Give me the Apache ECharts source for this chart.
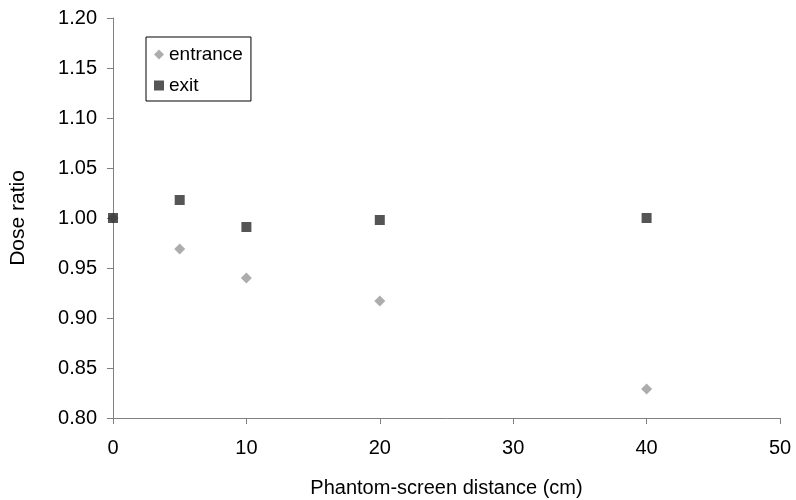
<!DOCTYPE html>
<html><head><meta charset="utf-8">
<script src="https://cdn.jsdelivr.net/npm/echarts@6/dist/echarts.min.js"></script>
<style>html,body{margin:0;padding:0;background:#fff}#c{width:796px;height:500px}</style>
</head><body><div id="c"></div>
<script>
const xValues = [0, 5, 10, 20, 40];
const entrance = [1.000, 0.969, 0.940, 0.917, 0.829];
const exitVals = [1.000, 1.018, 0.991, 0.998, 1.000];
const xTicks = [0, 10, 20, 30, 40, 50];
const yTicks = [0.80, 0.85, 0.90, 0.95, 1.00, 1.05, 1.10, 1.15, 1.20];

const font = 'Liberation Sans, Arial, sans-serif';
const chart = echarts.init(document.getElementById('c'), null, {renderer: 'canvas'});
chart.setOption({
  animation: false,
  backgroundColor: '#fff',
  grid: {left: 113, right: 16, top: 18, bottom: 82, containLabel: false, outerBoundsMode: 'none'},
  legend: {
    orient: 'vertical', left: 146, top: 37,
    padding: [8, 8, 6, 8], itemGap: 12,
    borderColor: '#000', borderWidth: 1,
    itemWidth: 10, itemHeight: 10,
    textStyle: {fontFamily: font, fontSize: 19, color: '#000'},
    data: [{name: 'entrance', icon: 'diamond'}, {name: 'exit', icon: 'rect'}]
  },
  xAxis: {
    type: 'value', min: xTicks[0], max: xTicks[xTicks.length-1], interval: 10,
    name: 'Phantom-screen distance (cm)', nameLocation: 'middle', nameGap: 60,
    nameTextStyle: {fontFamily: font, fontSize: 20, color: '#000'},
    axisLine: {show: true, lineStyle: {color: '#808080', width: 1}},
    axisTick: {show: true, inside: false, length: 6, lineStyle: {color: '#808080'}},
    axisLabel: {fontFamily: font, fontSize: 20, color: '#000', margin: 20},
    splitLine: {show: false}
  },
  yAxis: {
    type: 'value', min: yTicks[0], max: yTicks[yTicks.length-1], interval: 0.05,
    name: 'Dose ratio', nameLocation: 'middle', nameGap: 84, nameRotate: 90,
    nameTextStyle: {fontFamily: font, fontSize: 21, color: '#000'},
    axisLine: {show: true, lineStyle: {color: '#808080', width: 1}},
    axisTick: {show: true, inside: false, length: 6, lineStyle: {color: '#808080'}},
    axisLabel: {fontFamily: font, fontSize: 20, color: '#000', margin: 16,
      formatter: v => v.toFixed(2)},
    splitLine: {show: false}
  },
  series: [
    {name: 'entrance', type: 'scatter', symbol: 'diamond', symbolSize: 11,
     itemStyle: {color: '#999999'}, data: xValues.map((x, i) => [x, entrance[i]]), z: 2},
    {name: 'exit', type: 'scatter', symbol: 'rect', symbolSize: 10,
     itemStyle: {color: '#2a2a2a'}, data: xValues.map((x, i) => [x, exitVals[i]]), z: 3}
  ]
});
</script></body></html>
